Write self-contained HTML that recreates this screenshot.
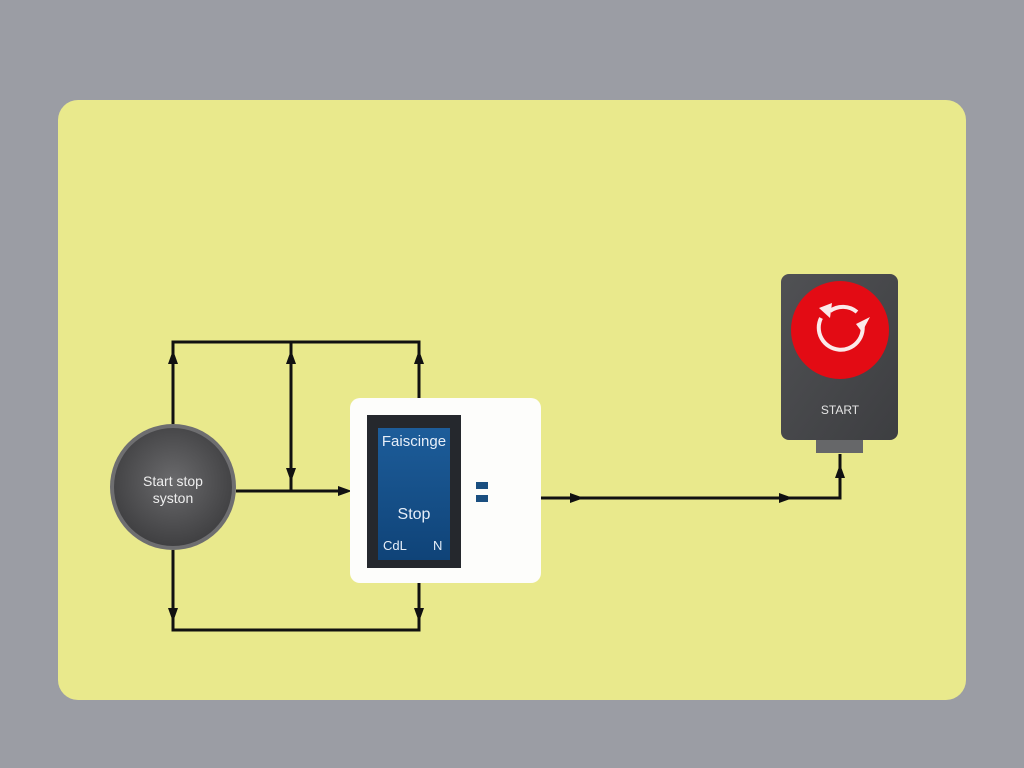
<!DOCTYPE html>
<html><head><meta charset="utf-8"><style>
html,body{margin:0;padding:0;background:#9b9da4;}
svg{display:block}
</style></head><body>
<svg width="1024" height="768" viewBox="0 0 1024 768" xmlns="http://www.w3.org/2000/svg">
<defs>
<radialGradient id="cg" cx="0.5" cy="0.45" r="0.6">
<stop offset="0" stop-color="#6a6a6c"/><stop offset="1" stop-color="#3c3c3e"/>
</radialGradient>
<linearGradient id="sg" x1="0" y1="0" x2="0" y2="1">
<stop offset="0" stop-color="#1d5d9a"/><stop offset="1" stop-color="#0f4378"/>
</linearGradient>
<linearGradient id="dg" x1="0" y1="0" x2="1" y2="1">
<stop offset="0" stop-color="#505154"/><stop offset="1" stop-color="#3d3e41"/>
</linearGradient>
</defs>
<rect width="1024" height="768" fill="#9b9da4"/>
<rect x="58" y="100" width="908" height="600" rx="20" fill="#e9e98c"/>
<g stroke="#111" stroke-width="3" fill="none">
<polyline points="173,424 173,342 419,342 419,398"/>
<line x1="291" y1="342" x2="291" y2="491"/>
<line x1="236" y1="491" x2="346" y2="491"/>
<polyline points="173,550 173,630 419,630 419,583"/>
<polyline points="541,498 840,498 840,454"/>
</g>
<g fill="#111">
<polygon points="173,350 168,364 178,364"/>
<polygon points="291,350 286,364 296,364"/>
<polygon points="291,482 286,468 296,468"/>
<polygon points="419,350 414,364 424,364"/>
<polygon points="352,491 338,486 338,496"/>
<polygon points="173,622 168,608 178,608"/>
<polygon points="419,622 414,608 424,608"/>
<polygon points="584,498 570,493 570,503"/>
<polygon points="793,498 779,493 779,503"/>
<polygon points="840,464 835,478 845,478"/>
</g>
<circle cx="173" cy="487" r="63" fill="#6e6e70"/>
<circle cx="173" cy="487" r="59" fill="url(#cg)"/>
<text x="173" y="486" fill="#eee" font-family="Liberation Sans, sans-serif" font-size="14" text-anchor="middle">Start stop</text>
<text x="173" y="503" fill="#eee" font-family="Liberation Sans, sans-serif" font-size="14" text-anchor="middle">syston</text>
<rect x="350" y="398" width="191" height="185" rx="10" fill="#fdfdfb"/>
<rect x="367" y="415" width="94" height="153" fill="#25282d"/>
<rect x="378" y="428" width="72" height="132" fill="url(#sg)"/>
<text x="414" y="446" fill="#e6eef8" font-family="Liberation Sans, sans-serif" font-size="15" text-anchor="middle">Faiscinge</text>
<text x="414" y="519" fill="#e6eef8" font-family="Liberation Sans, sans-serif" font-size="16" text-anchor="middle">Stop</text>
<text x="383" y="550" fill="#e6eef8" font-family="Liberation Sans, sans-serif" font-size="13">CdL</text>
<text x="433" y="550" fill="#e6eef8" font-family="Liberation Sans, sans-serif" font-size="13">N</text>
<rect x="476" y="482" width="12" height="7" fill="#1a4f80"/>
<rect x="476" y="495" width="12" height="7" fill="#1a4f80"/>
<rect x="816" y="436" width="47" height="17" fill="#666769"/>
<rect x="781" y="274" width="117" height="166" rx="8" fill="url(#dg)"/>
<circle cx="840" cy="330" r="49" fill="#e30b14"/>
<path d="M 821 318 A 22 22 0 1 0 862 322" stroke="#fbeaea" stroke-width="4" fill="none"/>
<path d="M 830 311 A 22 22 0 0 1 857 312" stroke="#fbeaea" stroke-width="4" fill="none"/>
<polygon points="819,308 832,303 830,318" fill="#fbeaea"/>
<polygon points="856,324 870,317 862,332" fill="#fbeaea"/>
<text x="840" y="414" fill="#e5e5e5" font-family="Liberation Sans, sans-serif" font-size="12" text-anchor="middle">START</text>
</svg>
</body></html>
